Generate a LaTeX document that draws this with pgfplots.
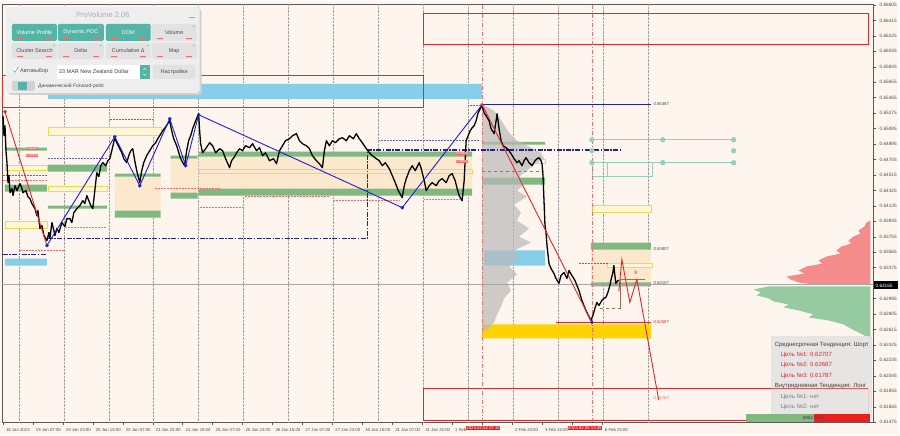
\documentclass[border=0pt]{standalone}
\usepackage{fontspec}
\setmainfont{Liberation Sans}
\usepackage{pgfplots}
\pgfplotsset{compat=1.18}

\definecolor{bgc}{RGB}{253,245,238}
\definecolor{grn}{RGB}{128,184,128}
\definecolor{vafill}{RGB}{252,232,204}
\definecolor{ylw}{RGB}{244,214,80}
\definecolor{ylwfill}{RGB}{255,246,214}
\definecolor{sky}{RGB}{135,206,235}
\definecolor{navy}{RGB}{35,35,140}
\definecolor{zzblue}{RGB}{30,30,215}
\definecolor{zzred}{RGB}{225,40,40}
\definecolor{gold}{RGB}{255,210,0}
\definecolor{prored}{RGB}{244,140,140}
\definecolor{progrn}{RGB}{150,202,160}
\definecolor{teal1}{RGB}{150,205,190}
\definecolor{pteal}{RGB}{84,180,165}
\definecolor{pbtn}{RGB}{226,226,226}
\definecolor{ppanel}{RGB}{238,238,238}
\definecolor{brn}{RGB}{160,110,80}
\definecolor{redbox}{RGB}{235,30,30}
\definecolor{pinkred}{RGB}{240,110,110}

% rectangle zone: style, x1, x2, y1, y2
\newcommand{\zone}[5]{\addplot[#1] coordinates {(#2,#4) (#3,#4) (#3,#5) (#2,#5) (#2,#4)};}
% horizontal level: style, x1, x2, y
\newcommand{\lvl}[4]{\addplot[#1] coordinates {(#2,#4) (#3,#4)};}

\begin{document}
\begin{tikzpicture}
\begin{scope}[x=1pt,y=-1pt,shift={(-2pt,422pt)}]
  \fill[bgc] (0,0) rectangle (900,435);
  \path[use as bounding box] (0,0) rectangle (900,435);
\end{scope}

\begin{axis}[
  at={(0pt,0pt)}, anchor=south west,
  scale only axis, width=873pt, height=419pt,
  xmin=2, xmax=875, ymin=0.61474, ymax=0.66617,
  axis line style={draw=gray!70!black, line width=0.5pt},
  xtick pos=left, ytick pos=right, yticklabel pos=right,
  tick align=outside, major tick length=2.5pt,
  tick style={gray!70!black, line width=0.4pt},
  scaled y ticks=false,
  ytick={0.61475,0.61665,0.61855,0.62045,0.62235,0.62425,0.62615,0.62805,0.62995,
         0.63375,0.63565,0.63755,0.63945,0.64135,0.64325,0.64515,0.64705,0.64895,0.65085,
         0.65275,0.65465,0.65655,0.65845,0.66035,0.66225,0.66415,0.66605},
  yticklabel style={font=\fontsize{4.7}{5}\selectfont, text=gray!60!black, xshift=0.3pt,
    /pgf/number format/fixed, /pgf/number format/fixed zerofill,
    /pgf/number format/precision=5, /pgf/number format/assume math mode=true},
  xtick={3,33,63,93,123,153,183,213,243,273,303,333,363,393,423,453,483,513,543,573,603},
  xticklabels={18 Jan 2023,19 Jan 07:00,19 Jan 23:00,20 Jan 15:00,23 Jan 07:00,23 Jan 23:00,
    24 Jan 15:00,25 Jan 07:00,25 Jan 23:00,26 Jan 15:00,27 Jan 07:00,27 Jan 23:00,
    30 Jan 15:00,31 Jan 07:00,31 Jan 23:00,1 Feb,{},2 Feb 23:00,
    3 Feb 15:00,{},6 Feb 23:00},
  xticklabel style={font=\fontsize{4.3}{5}\selectfont, text=gray!60!black, anchor=north west, xshift=-0.5pt},
  extra x ticks={19,64,109,154,199,244,289,334,379,424,469,514,559,604,649},
  extra x tick labels={},
  extra x tick style={grid=major, major grid style={gray!75, densely dotted, line width=0.5pt}, major tick length=0pt},
  clip=true,
]

% ---- zones: value areas, POC bars, levels
\zone{fill=sky, draw=none}{48}{483}{0.65635}{0.65451}
\zone{draw=zzred, line width=0.8pt}{2}{424}{0.65733}{0.65341}
\zone{draw=zzred, line width=0.8pt}{424}{870}{0.66507}{0.66126}
\zone{draw=zzred, line width=0.8pt}{424}{870}{0.61892}{0.61499}

\zone{fill=vafill, draw=none}{115}{161}{0.64494}{0.64077}
\zone{fill=vafill, draw=none}{171}{198}{0.64715}{0.64297}
\zone{fill=vafill, draw=none}{199}{473}{0.64739}{0.64347}
\zone{fill=vafill, draw=none}{592}{652}{0.63598}{0.63193}

\zone{fill=grn, draw=none}{5}{47}{0.64850}{0.64813}
\zone{fill=grn, draw=none}{5}{47}{0.64396}{0.64310}
\zone{fill=grn, draw=none}{48}{107}{0.64641}{0.64555}
\zone{fill=grn, draw=none}{48}{107}{0.64138}{0.64101}
\zone{fill=grn, draw=none}{115}{161}{0.64531}{0.64494}
\zone{fill=grn, draw=none}{115}{161}{0.64077}{0.63991}
\zone{fill=grn, draw=none}{171}{198}{0.64752}{0.64715}
\zone{fill=grn, draw=none}{171}{198}{0.64297}{0.64224}
\zone{fill=grn, draw=none}{199}{473}{0.64801}{0.64739}
\zone{fill=grn, draw=none}{199}{473}{0.64347}{0.64261}
\zone{fill=grn, draw=none}{483}{546}{0.64923}{0.64887}
\zone{fill=grn, draw=none}{483}{546}{0.64482}{0.64396}
\zone{fill=grn, draw=none}{592}{652}{0.63684}{0.63598}
\zone{fill=grn, draw=none}{592}{652}{0.63193}{0.63144}

\zone{draw=ylw, fill=ylwfill, line width=0.6pt}{48}{162}{0.65095}{0.64997}
\zone{draw=ylw, fill=ylwfill, line width=0.6pt}{5}{47}{0.64629}{0.64567}
\zone{draw=ylw, fill=ylwfill, line width=0.6pt}{48}{107}{0.64371}{0.64310}
\zone{draw=ylw, fill=ylwfill, line width=0.6pt}{5}{47}{0.63942}{0.63856}
\zone{draw=ylw, line width=0.6pt}{200}{473}{0.64580}{0.64531}
\zone{draw=ylw, line width=0.6pt}{512}{546}{0.64702}{0.64653}
\zone{draw=ylw, fill=ylwfill, line width=0.6pt}{608}{653}{0.63426}{0.63377}
\zone{draw=ylw, fill=ylwfill, line width=0.6pt}{593}{652}{0.64138}{0.64052}

\zone{fill=sky, draw=none}{5}{47}{0.63487}{0.63401}
\zone{fill=sky, draw=none}{485}{546}{0.63586}{0.63401}
\zone{fill=gold, draw=none}{483}{652}{0.62677}{0.62505}

\zone{draw=teal1, line width=0.6pt}{593}{653}{0.64666}{0.64494}
\zone{draw=teal1, line width=0.6pt}{608}{653}{0.64666}{0.64494}

% ---- volume profiles
\addplot[fill=gray!55, draw=none, opacity=0.7] coordinates {
(483,0.65378)(488,0.65353)(495,0.65304)(500,0.65230)(505,0.65132)(510,0.65034)(518,0.64936)
(530,0.64862)(542,0.64788)(545,0.64715)(535,0.64641)(528,0.64567)(520,0.64494)(525,0.64396)
(518,0.64322)(528,0.64248)(515,0.64150)(522,0.64052)(518,0.63954)(530,0.63856)(520,0.63757)
(532,0.63684)(515,0.63586)(520,0.63487)(510,0.63389)(518,0.63291)(508,0.63193)(512,0.63095)
(505,0.62997)(502,0.62898)(498,0.62800)(495,0.62702)(488,0.62604)(483,0.62604)(483,0.65378)};
\addplot[fill=prored, draw=none] coordinates {
(872,0.63954)(868,0.63929)(866,0.63880)(860,0.63831)(862,0.63794)(855,0.63757)(850,0.63708)
(853,0.63671)(843,0.63635)(838,0.63586)(842,0.63549)(828,0.63512)(820,0.63463)(824,0.63426)
(808,0.63389)(800,0.63340)(806,0.63303)(788,0.63266)(792,0.63230)(800,0.63193)(815,0.63168)
(872,0.63168)(872,0.63954)};
\addplot[fill=progrn, draw=none] coordinates {
(872,0.63144)(770,0.63144)(755,0.63107)(762,0.63070)(758,0.63033)(770,0.62997)(775,0.62960)
(790,0.62923)(785,0.62886)(800,0.62849)(815,0.62800)(810,0.62763)(830,0.62726)(845,0.62677)
(852,0.62628)(860,0.62579)(868,0.62530)(872,0.62505)(872,0.63144)};

% ---- thin dotted levels
\lvl{navy!70, densely dotted, line width=0.5pt}{110}{153}{0.65206}
\lvl{navy!70, densely dotted, line width=0.5pt}{48}{107}{0.64715}
\lvl{navy!70, densely dotted, line width=0.5pt}{3}{47}{0.64506}
\lvl{pinkred, densely dotted, line width=0.5pt}{3}{47}{0.64445}
\lvl{pinkred, densely dotted, line width=0.5pt}{65}{107}{0.63868}
\lvl{pinkred, densely dotted, line width=0.5pt}{20}{65}{0.63586}
\lvl{pinkred, densely dotted, line width=0.5pt}{155}{220}{0.64347}
\lvl{pinkred, densely dotted, line width=0.5pt}{200}{245}{0.64113}
\lvl{pinkred, densely dotted, line width=0.5pt}{245}{330}{0.64248}
\lvl{pinkred, densely dotted, line width=0.5pt}{335}{400}{0.64199}
\lvl{navy!70, densely dotted, line width=0.5pt}{380}{480}{0.64936}
\lvl{pinkred, densely dotted, line width=0.5pt}{425}{460}{0.64212}
\lvl{navy!70, densely dotted, line width=0.5pt}{469}{483}{0.65378}
\lvl{navy!70, densely dotted, line width=0.5pt}{580}{610}{0.63426}
\lvl{gray, dashed, line width=0.5pt}{483}{545}{0.64555}
\lvl{teal1, line width=0.5pt}{593}{735}{0.64948}
\lvl{teal1, line width=0.5pt}{593}{735}{0.64666}

% ---- current price line and session markers
\lvl{gray!70, line width=0.5pt}{2}{875}{0.63165}
\addplot[pinkred, dash pattern=on 4pt off 2pt on 1pt off 2pt, line width=0.6pt] coordinates {(483,0.61474)(483,0.66617)};
\addplot[pinkred, dash pattern=on 4pt off 2pt on 1pt off 2pt, line width=0.6pt] coordinates {(593,0.61474)(593,0.66617)};

% ---- dash-dot levels
\addplot[navy, line width=1.6pt, dash pattern=on 5pt off 1.5pt on 1.5pt off 1.5pt] coordinates {(48,0.63733)(368,0.63733)(368,0.64825)(622,0.64825)};
\lvl{navy, line width=1.6pt, dash pattern=on 5pt off 1.5pt on 1.5pt off 1.5pt}{3}{47}{0.63536}
\lvl{navy, line width=0.8pt}{483}{652}{0.65387}
\lvl{zzred, line width=1.4pt}{557}{652}{0.62702}

% ---- price
\addplot[black, line width=1.3pt, line join=round] coordinates {
(3,0.65243)(4,0.64997)(5,0.65120)(6,0.64813)(7,0.64666)(8,0.64420)(9,0.64506)(10,0.64297)
(12,0.64347)(13,0.64261)(15,0.64383)(17,0.64322)(20,0.64408)(22,0.64347)(23,0.64297)(26,0.64322)
(28,0.64248)(30,0.64224)(32,0.64162)(35,0.64101)(37,0.64015)(38,0.64077)(40,0.63856)(42,0.63892)
(44,0.63770)(47,0.63708)(49,0.63807)(50,0.63733)(52,0.63929)(54,0.63831)(55,0.63770)(57,0.63856)
(59,0.63807)(62,0.63929)(65,0.63880)(67,0.63978)(70,0.63978)(72,0.63929)(74,0.64052)(77,0.64101)
(80,0.64138)(83,0.64199)(85,0.64162)(87,0.64261)(89,0.64199)(91,0.64138)(93,0.64101)(95,0.64322)
(97,0.64543)(99,0.64494)(101,0.64629)(103,0.64666)(106,0.64629)(108,0.64690)(110,0.64715)(112,0.64813)
(115,0.64972)(117,0.64911)(120,0.64837)(122,0.64788)(124,0.64715)(127,0.64666)(129,0.64752)(131,0.64813)
(133,0.64837)(135,0.64690)(137,0.64567)(140,0.64420)(142,0.64567)(144,0.64666)(147,0.64752)(150,0.64813)
(153,0.64874)(156,0.64911)(158,0.64960)(160,0.64997)(163,0.65058)(166,0.65108)(170,0.65181)(172,0.65058)
(174,0.64960)(177,0.64874)(180,0.64752)(182,0.64690)(185,0.64629)(187,0.64813)(189,0.64936)(191,0.64997)
(193,0.65083)(196,0.65181)(199,0.65267)(200,0.65058)(201,0.64899)(203,0.64788)(206,0.64837)(210,0.64911)
(213,0.64874)(216,0.64788)(220,0.64837)(223,0.64813)(226,0.64715)(230,0.64604)(232,0.64690)(235,0.64739)
(237,0.64788)(240,0.64837)(243,0.64813)(246,0.64874)(250,0.64850)(253,0.64899)(257,0.64813)(260,0.64850)
(263,0.64752)(266,0.64788)(270,0.64690)(274,0.64715)(277,0.64653)(280,0.64813)(283,0.64874)(286,0.64936)
(290,0.64960)(293,0.64997)(297,0.65022)(300,0.64936)(303,0.64899)(307,0.64874)(310,0.64837)(313,0.64752)
(317,0.64690)(320,0.64653)(323,0.64604)(325,0.64813)(327,0.64936)(330,0.64874)(333,0.64936)(336,0.64911)
(340,0.64960)(343,0.64972)(347,0.64936)(350,0.64997)(354,0.64960)(357,0.65022)(360,0.64960)(363,0.64911)
(367,0.64837)(370,0.64788)(373,0.64752)(377,0.64715)(380,0.64690)(383,0.64629)(386,0.64666)(390,0.64592)
(393,0.64506)(396,0.64420)(399,0.64322)(403,0.64236)(405,0.64383)(407,0.64469)(410,0.64567)(413,0.64629)
(416,0.64567)(420,0.64666)(422,0.64592)(425,0.64445)(427,0.64322)(430,0.64383)(433,0.64420)(437,0.64383)
(440,0.64445)(443,0.64469)(447,0.64420)(450,0.64506)(453,0.64531)(456,0.64445)(458,0.64347)(460,0.64261)
(463,0.64199)(465,0.64445)(466,0.64690)(467,0.64936)(469,0.64997)(471,0.65058)(473,0.65095)(475,0.65120)
(477,0.65181)(479,0.65279)(481,0.65328)(483,0.65365)(485,0.65279)(487,0.65243)(490,0.65181)(492,0.65083)
(495,0.65022)(497,0.65181)(498,0.65267)(500,0.65083)(502,0.64936)(504,0.64874)(507,0.64850)(510,0.64813)
(512,0.64776)(515,0.64715)(518,0.64666)(520,0.64690)(523,0.64629)(525,0.64690)(527,0.64727)(530,0.64666)
(533,0.64629)(536,0.64690)(538,0.64715)(540,0.64727)(542,0.64690)(543,0.64653)(544,0.64506)(545,0.64199)
(546,0.63892)(547,0.63807)(548,0.63647)(550,0.63426)(552,0.63365)(555,0.63303)(557,0.63242)(560,0.63181)
(562,0.63279)(565,0.63316)(568,0.63242)(570,0.63340)(573,0.63279)(576,0.63217)(578,0.63156)(580,0.63095)
(583,0.62972)(585,0.62910)(587,0.62849)(590,0.62775)(592,0.62726)(594,0.62788)(596,0.62874)(598,0.62947)
(600,0.62910)(603,0.62972)(605,0.62997)(607,0.63009)(609,0.63070)(611,0.63156)(612,0.63217)(614,0.63316)
(615,0.63401)(616,0.63279)(617,0.63181)(619,0.63217)(620,0.63217)};

% ---- zigzag
\addplot[zzred, line width=0.9pt] coordinates {(5,0.65292)(47,0.63647)};
\addplot[zzblue, line width=0.9pt] coordinates {(47,0.63647)(115,0.64985)(140,0.64383)(170,0.65206)(186,0.64629)(199,0.65255)(403,0.64113)(483,0.65378)};
\addplot[zzred, line width=0.9pt] coordinates {(483,0.65378)(593,0.62702)};
\addplot[zzred, line width=0.9pt] coordinates {(620,0.63087)(623,0.63475)(631,0.62947)(638,0.63230)(660,0.61744)};
\addplot[brn, line width=0.8pt] coordinates {(646,0.63230)(622,0.63230)(622,0.62874)};
\addplot[brn, dashed, line width=0.7pt] coordinates {(622,0.62874)(599,0.62874)};
\addplot[only marks, mark=*, mark size=1.6pt, zzblue] coordinates {(47,0.63647)(115,0.64985)(140,0.64383)(170,0.65206)(186,0.64629)(199,0.65255)(403,0.64113)(593,0.62702)};
\addplot[only marks, mark=*, mark size=1.6pt, zzred] coordinates {(5,0.65292)(483,0.65378)};
\addplot[only marks, mark=*, mark size=2.4pt, teal1] coordinates {(593,0.64948)(593,0.64813)(593,0.64666)(664,0.64948)(664,0.64666)(735,0.64948)(735,0.64813)(735,0.64666)};

% ---- level labels
\node[anchor=west, inner sep=0.5pt, font=\fontsize{4.3}{5}\selectfont, text=gray!60!black] at (axis cs:654,0.65390) {0.65387};
\node[anchor=west, inner sep=0.5pt, font=\fontsize{4.3}{5}\selectfont, text=gray!60!black] at (axis cs:654,0.63610) {0.63807};
\node[anchor=west, inner sep=0.5pt, font=\fontsize{4.3}{5}\selectfont, text=gray!60!black] at (axis cs:654,0.63181) {0.63107};
\node[anchor=west, inner sep=0.5pt, font=\fontsize{4.3}{5}\selectfont, text=zzred] at (axis cs:654,0.62702) {0.62597};
\node[anchor=west, inner sep=0.5pt, font=\fontsize{4.3}{5}\selectfont, text=pinkred] at (axis cs:654,0.61769) {0.61787};
\node[font=\fontsize{5}{5}\selectfont, text=zzred] at (axis cs:637,0.63316) {8};
\node[fill=pinkred, text=white, inner sep=0.4pt, font=\fontsize{3.2}{3.5}\selectfont] at (axis cs:463,0.64776) {0.64810};
\node[fill=pinkred, text=white, inner sep=0.4pt, font=\fontsize{3.2}{3.5}\selectfont] at (axis cs:463,0.64678) {0.64852};
\node[fill=pinkred, text=white, inner sep=0.4pt, font=\fontsize{3.2}{3.5}\selectfont] at (axis cs:32,0.64843) {0.64902};
\node[fill=pinkred, text=white, inner sep=0.4pt, font=\fontsize{3.2}{3.5}\selectfont] at (axis cs:32,0.64752) {0.64840};
\end{axis}

% ---- overlays in screen pixels
\begin{scope}[x=1pt,y=-1pt,shift={(-2pt,422pt)}]
  % time markers on the axis
  \node[fill=redbox, text=white, inner sep=0.6pt, font=\fontsize{4.3}{5}\selectfont] at (484,428) {2023.02.02 07:15};
  \node[fill=redbox, text=white, inner sep=0.6pt, font=\fontsize{4.3}{5}\selectfont] at (586,428) {2023.02.06 13:45};
  % current price tag
  \fill[black] (876,281) rectangle (900,289);
  \node[text=white, inner sep=0pt, font=\fontsize{4.7}{5}\selectfont, anchor=west] at (877,285) {0.63165};

  % ProVolume panel
  \fill[black!18, rounded corners=3pt] (8,8) rectangle (202,94);
  \fill[ppanel, rounded corners=3pt] (6,6) rectangle (200,92);
  \node[text=gray!65, font=\fontsize{7.5}{8}\selectfont] at (103,14) {ProVolume 2.06};
  \draw[gray!70, line width=0.6pt] (189,16) -- (195,16);
  \foreach \xa/\xb/\ya/\yb/\fc/\tc/\txt in {
      12/57/23/40/pteal/white/Volume Profile,
      58/104/23/40/pteal/white/Dynamic POC,
      106/151/23/40/pteal/white/DOM,
      152/197/23/40/pbtn/black!70/Volume,
      12/57/42/58/pbtn/black!70/Cluster Search,
      58/104/42/58/pbtn/black!70/Delta,
      106/151/42/58/pbtn/black!70/Cumulative Δ,
      152/197/42/58/pbtn/black!70/Map} {
    \fill[\fc, rounded corners=1.5pt] (\xa,\ya) rectangle (\xb,\yb);
    \fill[gray!60] (\xb-3,\ya+2.5) circle (0.9);
    \draw[red!60, line width=0.5pt] (\xa+5,\yb-2.5) -- (\xa+11,\yb-2.5);
    \draw[red!60, line width=0.5pt] (\xb-11,\yb-2.5) -- (\xb-5,\yb-2.5);
    \node[text=\tc, font=\fontsize{5.5}{6}\selectfont] at ({(\xa+\xb)/2},{(\ya+\yb)/2}) {\txt};
  }
  \fill[white] (13,67) rectangle (18,72);
  \draw[pteal, line width=0.7pt] (13.5,69.5) -- (15,71.5) -- (18.5,66);
  \node[anchor=west, text=black!70, font=\fontsize{5.5}{6}\selectfont, inner sep=0pt] at (20,70) {Автовыбор};
  \fill[white] (57,64) rectangle (140,78);
  \node[anchor=west, text=black!75, font=\fontsize{5.5}{6}\selectfont, inner sep=0pt] at (59,71) {23 MAR New Zealand Dollar};
  \fill[pteal] (140,64) rectangle (150,78);
  \draw[white, line width=0.4pt] (143.5,69) -- (145,67.5) -- (146.5,69);
  \draw[white, line width=0.4pt] (143.5,73) -- (145,74.5) -- (146.5,73);
  \fill[pbtn, rounded corners=1.5pt] (153,64) rectangle (196,78);
  \node[text=black!70, font=\fontsize{5.5}{6}\selectfont] at (174.5,71) {Настройки};
  \fill[gray!35, rounded corners=2pt] (12,80) rectangle (35,90);
  \fill[pteal] (18,81) rectangle (27,89);
  \node[anchor=west, text=black!70, font=\fontsize{5}{6}\selectfont, inner sep=0pt] at (38,85) {Динамический Forward-point};

  % trend info box
  \fill[gray!22, opacity=0.88] (772,336) rectangle (874,416);
  \draw[zzred, line width=0.8pt, opacity=0.7] (772,388) -- (870,388);
  \begin{scope}[every node/.style={anchor=west, inner sep=0pt, font=\fontsize{6}{7}\selectfont}]
    \node[text=black!75] at (776,345) {Среднесрочная Тенденция: Шорт};
    \node[text=zzred] at (782,355) {Цель №1: 0.62707};
    \node[text=zzred] at (782,365) {Цель №2: 0.62687};
    \node[text=zzred] at (782,376) {Цель №3: 0.61787};
    \node[text=black!75] at (776,386) {Внутридневная Тенденция: Лонг};
    \node[text=gray] at (782,397) {Цель №1: нет};
    \node[text=gray] at (782,407) {Цель №2: нет};
  \end{scope}
  \fill[grn] (747,414) rectangle (815,421.5);
  \fill[redbox] (815,414) rectangle (872,421.5);
  \node[anchor=east, inner sep=0.5pt, text=black!80, font=\fontsize{4.6}{5}\selectfont] at (815,418) {2062};
  \node[anchor=west, inner sep=0.5pt, text=black!70, font=\fontsize{4.6}{5}\selectfont] at (815,418) {1556};
\end{scope}
\end{tikzpicture}
\end{document}
